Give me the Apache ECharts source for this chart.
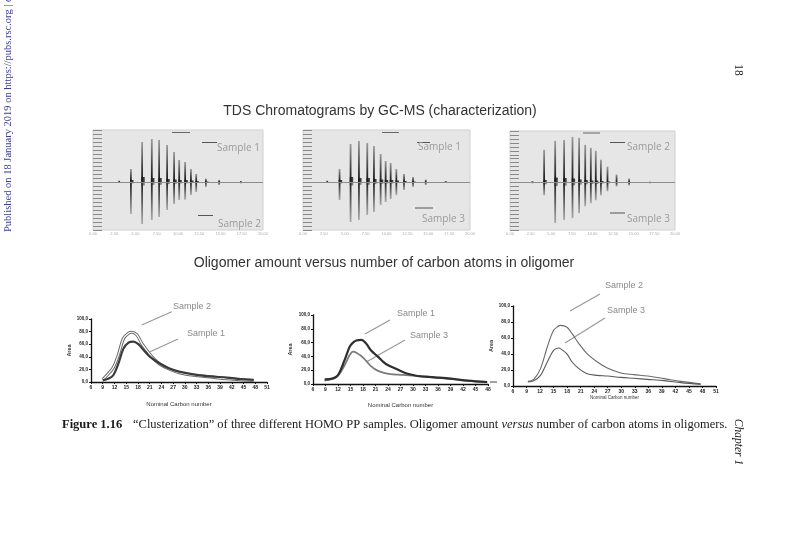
<!DOCTYPE html>
<html lang="en">
<head>
<meta charset="utf-8"/>
<title>Clusterization of HOMO PP samples</title>
<script src="https://cdn.jsdelivr.net/npm/echarts@6/dist/echarts.min.js"></script>
<style>
    html, body { margin: 0; padding: 0; background: #fff; }
    #main { width: 800px; height: 533px; }
</style>
</head>
<body>
<div id="main"></div>
<script type="text/javascript">

// ---- chromatograms: peak position (0-100 of run), upper trace and lower (mirrored) trace
var chromPos1 = [15.9, 22.8, 29.4, 35.1, 39.4, 44.1, 48.2, 51.2, 54.7, 58.1, 61.2, 66.9, 74.7, 87.5];
var chromUp1 = [1.5, 13, 40, 43, 42, 37, 30, 22, 20, 13, 8, 3.5, 2, 1];            // Sample 1
var chromDown1 = [-1, -32, -42, -38, -35, -28, -22, -18, -17.7, -13, -10, -5, -3, -1.5]; // Sample 2
var chromBlob1 = [0, 2, 5, 4, 4, 3, 2.5, 2, 2, 1.5, 1, 0.5, 0, 0];                 // dark base clusters

var chromPos2 = [15, 22.4, 29, 34, 39, 43, 47, 50, 53, 56.4, 61, 66.4, 74, 86];
var chromUp2 = [1.5, 13, 38, 41, 39, 36, 28, 21, 19, 13, 8, 5, 2.5, 1];             // Sample 1
var chromDown2 = [-1, -18, -40, -38, -33, -30, -23, -20, -17, -13, -8, -5, -3, -1];  // Sample 3
var chromBlob2 = [0, 2, 5, 4, 4, 3, 2.5, 2, 2, 1.5, 1, 0.5, 0, 0];

var chromPos3 = [14.1, 21.2, 27.9, 33.3, 38.4, 42.4, 46.1, 49.5, 52.5, 55.6, 59.6, 65.1, 72.7, 85.3];
var chromUp3 = [1.5, 33, 42, 43, 46, 45, 38, 35, 32, 23, 16, 8, 4, 1];              // Sample 2
var chromDown3 = [-1, -13, -41, -38, -36, -31, -24, -21, -18, -13, -9, -4, -3, -1];  // Sample 3
var chromBlob3 = [0, 2.5, 5, 4.5, 4, 3, 2.5, 2, 2, 1.5, 1, 0.5, 0, 0];

// ---- oligomer amount (Area) vs nominal carbon number
// panel 1: Sample 2 / Sample 1
var p1Carbon2 = [9, 10.4, 11.7, 13, 14.3, 15.6, 16.4, 17.7, 19, 20.3, 22, 23.7, 26.2, 28.8, 32.2, 36.5, 40.8, 44.2, 47.6];
var p1Sample2 = [3.7, 13, 23, 43, 69, 77.5, 79, 75, 61, 50, 37, 28, 20, 14.4, 10.7, 8, 5.3, 3.7, 2.7];
var p1Carbon1 = [9, 10.4, 11.7, 13, 14.3, 15.6, 16.8, 18.1, 19.4, 21.1, 23.7, 26.2, 28.8, 32.2, 36.5, 40.8, 44.2, 47.6];
var p1Sample1 = [2.7, 5, 10.7, 29, 53, 62.5, 64, 60, 51, 40, 29, 21, 16, 12, 9, 7, 4.8, 3.2];

// panel 2: Sample 1 / Sample 3
var p2Carbon = [8.8, 10.8, 12, 13.6, 14.8, 15.6, 16.4, 17.6, 18.7, 19.9, 21.5, 23.5, 26.3, 28.3, 31.1, 35.1, 39.1, 43.1, 47.8];
var p2Sample1 = [6.8, 8.2, 13, 35, 54, 60, 63, 64, 59, 49, 40, 29, 21, 15.5, 11.6, 9.7, 7.7, 4.8, 2.9];
var p2Sample3 = [4.8, 7.7, 11.6, 27.5, 42, 47, 45.4, 40.6, 33.8, 26, 19.3, 15.5, 13.5, 13, 11.6, 9.7, 7.2, 4.8, 2.4];

// panel 3: Sample 2 / Sample 3
var p3Carbon = [9.3, 10.6, 12.1, 13.6, 15, 16.1, 16.5, 17.9, 19.1, 20.6, 22.4, 24.7, 26.9, 29.9, 32.8, 35.8, 39.5, 43.2, 47.6];
var p3Sample2 = [5.8, 8.3, 21.7, 48.8, 69.6, 75, 75.8, 73.8, 65.4, 53, 40.4, 30, 22.5, 16.3, 14.2, 12.5, 9.2, 5.8, 2.9];
var p3Sample3 = [5, 6.7, 13.3, 30, 44.6, 47.5, 46.7, 40.4, 30, 21.7, 15.4, 13.3, 12.5, 10.8, 9.6, 8.3, 6.7, 4.2, 2];

function pairs(xs, ys, sign) {
    var out = [];
    for (var i = 0; i < xs.length; i++) {
        out.push([xs[i], sign ? sign * ys[i] : ys[i]]);
    }
    return out;
}

var sans = 'Liberation Sans';
var serif = 'Liberation Serif';

// chromatogram grids (0..2) and oligomer grids (3..5)
var grids = [
    {left: 93, top: 130, width: 170, height: 100},
    {left: 303, top: 130, width: 167, height: 100},
    {left: 510, top: 131, width: 165, height: 99},
    {left: 91, top: 319, width: 176, height: 63},
    {left: 313, top: 315, width: 175, height: 69},
    {left: 513, top: 306, width: 203, height: 80}
];
grids.forEach(function (g, i) {
    g.containLabel = false;
    if (i < 3) {
        g.show = true;
        g.backgroundColor = '#e6e6e6';
        g.borderColor = '#d0d0d0';
        g.borderWidth = 1;
    }
});

var xAxes = [];
var yAxes = [];
for (var c = 0; c < 3; c++) {
    xAxes.push({
        gridIndex: c, type: 'value', min: 0, max: 100, interval: 12.5,
        axisLine: {show: false}, axisTick: {show: false}, splitLine: {show: false},
        axisLabel: {fontSize: 4, color: '#aaa', margin: 2, formatter: function (v) { return (v / 5).toFixed(2); }}
    });
    yAxes.push({
        gridIndex: c, type: 'value', min: -48, max: 52, interval: 4,
        axisLine: {show: false}, axisLabel: {show: false}, splitLine: {show: false},
        axisTick: {show: true, inside: true, length: 9, lineStyle: {color: '#8a8a8a', width: 1}}
    });
}

var lineAxisStyle = {lineStyle: {color: '#111', width: 1.3}};
var panelX = [
    {min: 6, max: 51, nameGap: 19},
    {min: 6, max: 48, nameGap: 18},
    {min: 6, max: 51, nameGap: 7}
];
var panelYGap = [19, 20, 13];
for (var p = 0; p < 3; p++) {
    xAxes.push({
        gridIndex: 3 + p, type: 'value', min: panelX[p].min, max: panelX[p].max, interval: 3,
        axisLine: lineAxisStyle, axisTick: {length: 2, lineStyle: {color: '#111'}},
        splitLine: {show: false},
        axisLabel: {fontSize: 5, color: '#222', fontWeight: 'bold', margin: 3, fontFamily: sans},
        name: 'Nominal Carbon number', nameLocation: 'middle', nameGap: panelX[p].nameGap,
        nameTextStyle: {fontSize: p === 2 ? 4.5 : 6, color: '#333', fontFamily: sans}
    });
    yAxes.push({
        gridIndex: 3 + p, type: 'value', min: 0, max: 100, interval: 20,
        axisLine: lineAxisStyle, axisTick: {length: 2, lineStyle: {color: '#111'}},
        splitLine: {show: false},
        axisLabel: {
            fontSize: 4.5, color: '#222', fontWeight: 'bold', margin: 3, fontFamily: sans,
            formatter: function (v) { return v.toFixed(1).replace('.', ','); }
        },
        name: 'Area', nameLocation: 'middle', nameGap: panelYGap[p],
        nameTextStyle: {fontSize: 5.5, color: '#333', fontWeight: 'bold', fontFamily: sans}
    });
}

var upColor = new echarts.graphic.LinearGradient(0, 0, 0, 1, [
    {offset: 0, color: '#9a9a9a'}, {offset: 0.6, color: '#444'}, {offset: 1, color: '#111'}
]);
var downColor = new echarts.graphic.LinearGradient(0, 0, 0, 1, [
    {offset: 0, color: '#222'}, {offset: 0.4, color: '#555'}, {offset: 1, color: '#aaaaaa'}
]);

function chromSeries(idx, pos, up, down, blob) {
    return [
        {
            type: 'bar', xAxisIndex: idx, yAxisIndex: idx, barWidth: 1.8, barGap: '-100%',
            data: pairs(pos, up), itemStyle: {color: upColor}, silent: true,
            markLine: {
                silent: true, symbol: 'none', label: {show: false},
                lineStyle: {color: '#8c8c8c', width: 1, type: 'solid'}, data: [{yAxis: 0}]
            }
        },
        {
            type: 'bar', xAxisIndex: idx, yAxisIndex: idx, barWidth: 1.8, barGap: '-100%',
            data: pairs(pos, down), itemStyle: {color: downColor}, silent: true
        },
        {
            type: 'bar', xAxisIndex: idx, yAxisIndex: idx, barWidth: 3.5, barGap: '-100%',
            data: pairs(pos, blob), itemStyle: {color: '#1c1c1c', opacity: 0.85}, silent: true, z: 3
        },
        {
            type: 'bar', xAxisIndex: idx, yAxisIndex: idx, barWidth: 3.5, barGap: '-100%',
            data: pairs(pos, blob, -0.7), itemStyle: {color: '#333', opacity: 0.6}, silent: true, z: 3
        }
    ];
}

function curve(idx, xs, ys, color, width, z) {
    return {
        type: 'line', xAxisIndex: idx, yAxisIndex: idx, data: pairs(xs, ys),
        smooth: 0.35, showSymbol: false, silent: true, z: z || 2,
        lineStyle: {color: color, width: width}
    };
}

var series = []
    .concat(chromSeries(0, chromPos1, chromUp1, chromDown1, chromBlob1))
    .concat(chromSeries(1, chromPos2, chromUp2, chromDown2, chromBlob2))
    .concat(chromSeries(2, chromPos3, chromUp3, chromDown3, chromBlob3));

// panel 1 : Sample 2 drawn hollow (outline + white core), Sample 1 dark
series.push(curve(3, p1Carbon2, p1Sample2, '#6a6a6a', 3.2, 2));
series.push(curve(3, p1Carbon2, p1Sample2, '#ffffff', 1.2, 3));
series.push(curve(3, p1Carbon1, p1Sample1, '#3a3a3a', 2.2, 4));
// panel 2
series.push(curve(4, p2Carbon, p2Sample3, '#7a7a7a', 1.8, 2));
series.push(curve(4, p2Carbon, p2Sample1, '#2e2e2e', 2.2, 3));
// panel 3
series.push(curve(5, p3Carbon, p3Sample2, '#6a6a6a', 1.1, 2));
series.push(curve(5, p3Carbon, p3Sample3, '#5a5a5a', 1.1, 3));

// ---- page furniture and annotations
function txt(x, y, text, font, fill, align, rot) {
    return {
        type: 'text', x: x, y: y, rotation: rot || 0, silent: true,
        style: {text: text, font: font, fill: fill, align: align || 'left', verticalAlign: 'middle'}
    };
}
function seg(x1, y1, x2, y2, color, w) {
    return {
        type: 'line', silent: true,
        shape: {x1: x1, y1: y1, x2: x2, y2: y2},
        style: {stroke: color || '#999', lineWidth: w || 1.2}
    };
}

var chromFont = '10px "Open Sans"';
var noteFont = '9px ' + sans;

var graphic = [
    txt(380, 111, 'TDS Chromatograms by GC-MS (characterization)', '14px ' + sans, '#333', 'center'),
    txt(384, 263, 'Oligomer amount versus number of carbon atoms in oligomer', '14px ' + sans, '#333', 'center'),

    // chromatogram labels
    seg(202, 142.5, 217, 142.5, '#555', 1), txt(217, 148, 'Sample 1', chromFont, '#9a9a9a'),
    seg(198, 215.5, 213, 215.5, '#555', 1), txt(218, 224, 'Sample 2', chromFont, '#9a9a9a'),
    seg(417, 142.5, 430, 142.5, '#555', 1), txt(418, 147, 'Sample 1', chromFont, '#9a9a9a'),
    seg(415, 208, 433, 208, '#555', 1), txt(422, 219, 'Sample 3', chromFont, '#9a9a9a'),
    seg(610, 142.5, 625, 142.5, '#555', 1), txt(627, 147, 'Sample 2', chromFont, '#9a9a9a'),
    seg(610, 213, 625, 213, '#555', 1), txt(627, 219, 'Sample 3', chromFont, '#9a9a9a'),
    seg(172, 132.5, 190, 132.5, '#666', 1),
    seg(382, 132.5, 399, 132.5, '#666', 1),
    seg(583, 133, 600, 133, '#666', 1),

    // oligomer panel labels
    seg(141.7, 325, 171.7, 311.7), txt(173, 307, 'Sample 2', noteFont, '#8a8a8a'),
    seg(150, 351.7, 178, 339), txt(187, 334, 'Sample 1', noteFont, '#8a8a8a'),
    seg(365, 334, 390, 320), txt(397, 314, 'Sample 1', noteFont, '#8a8a8a'),
    seg(366.7, 361.7, 405, 340), txt(410, 336, 'Sample 3', noteFont, '#8a8a8a'),
    seg(570, 311, 600, 294), txt(605, 286, 'Sample 2', noteFont, '#8a8a8a'),
    seg(565, 343, 605, 318), txt(607, 311, 'Sample 3', noteFont, '#8a8a8a'),
    seg(490, 382, 497, 382, '#444', 1),

    // caption
    txt(62, 425, 'Figure 1.16', 'bold 12.5px ' + serif, '#1a1a1a'),
    {
        type: 'text', x: 133, y: 425, silent: true,
        style: {
            text: '\u201cClusterization\u201d of three different HOMO PP samples. Oligomer amount {i|versus} number of carbon atoms in oligomers.',
            fontSize: 12.5, fontFamily: serif, fill: '#1a1a1a', align: 'left', verticalAlign: 'middle',
            rich: {i: {fontStyle: 'italic', fontSize: 12.5, fontFamily: serif, fill: '#1a1a1a'}}
        }
    },

    // margins
    txt(738, 70, '18', '11.5px ' + serif, '#222', 'center', -Math.PI / 2),
    txt(738, 442, 'Chapter 1', 'italic 11.5px ' + serif, '#222', 'center', -Math.PI / 2),
    txt(8, 232, 'Published on 18 January 2019 on https://pubs.rsc.org | doi:10.1039/9781788013703-00001', '10.5px ' + serif, '#3b3b8f', 'left', Math.PI / 2)
];

var chart = echarts.init(document.getElementById('main'));
chart.setOption({
    backgroundColor: '#ffffff',
    animation: false,
    textStyle: {fontFamily: sans},
    grid: grids,
    xAxis: xAxes,
    yAxis: yAxes,
    series: series,
    graphic: graphic
});
</script>
</body>
</html>
